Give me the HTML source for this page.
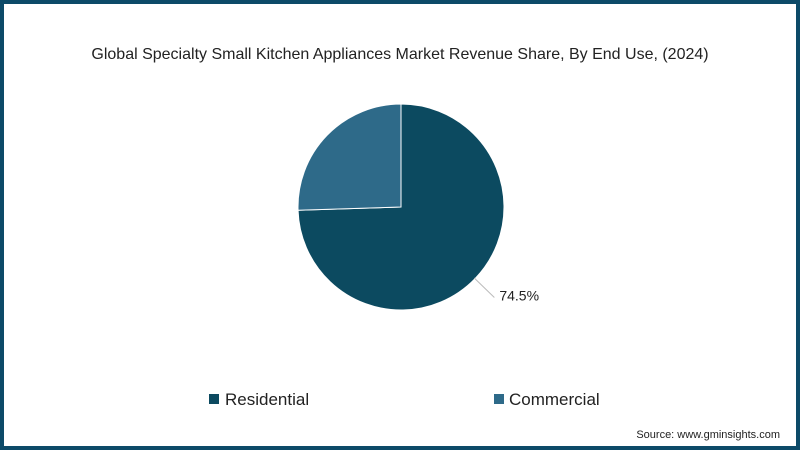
<!DOCTYPE html>
<html><head><meta charset="utf-8"><style>
html,body{margin:0;padding:0;background:#fff;}
#wrap{position:relative;width:800px;height:450px;box-sizing:border-box;border:4px solid #0d4a68;background:#fff;font-family:"Liberation Sans",sans-serif;}
</style></head><body>
<div id="wrap">
<svg id="svg" width="792" height="442" style="position:absolute;left:0;top:0">
<text x="396" y="55" text-anchor="middle" font-size="16" fill="#222" font-family="Liberation Sans, sans-serif">Global Specialty Small Kitchen Appliances Market Revenue Share, By End Use, (2024)</text>
<g id="pie"></g>
<g>
<rect x="205" y="390" width="10" height="10" fill="#0c4a60"/>
<text x="221" y="401" font-size="17" fill="#222">Residential</text>
<rect x="490" y="390" width="10" height="10" fill="#2e6a89"/>
<text x="505" y="401" font-size="17" fill="#222">Commercial</text>
</g>
<text x="776" y="434" text-anchor="end" font-size="11" fill="#222">Source: www.gminsights.com</text>
</svg>
</div>
<script>
const categories=["Residential","Commercial"];
const values=[74.5,25.5];
const labels=["74.5%",""];
const colors=["#0c4a60","#2e6a89"];
const cx=397,cy=203,r=103;
const g=document.getElementById('pie');
const ns='http://www.w3.org/2000/svg';
const total=values.reduce((a,b)=>a+b,0);
let a0=0;
function pt(a,rr){return [cx+rr*Math.sin(a),cy-rr*Math.cos(a)];}
values.forEach((v,i)=>{
 const a1=a0+v/total*2*Math.PI;
 const p0=pt(a0,r),p1=pt(a1,r);
 const large=(a1-a0)>Math.PI?1:0;
 const p=document.createElementNS(ns,'path');
 p.setAttribute('d',`M${cx},${cy}L${p0[0]},${p0[1]}A${r},${r} 0 ${large} 1 ${p1[0]},${p1[1]}Z`);
 p.setAttribute('fill',colors[i]);p.setAttribute('stroke','#fff');p.setAttribute('stroke-width','1');
 
 
 g.appendChild(p);
 if(labels[i]){
  const ang=(a0+a1)/2;
  const q0=pt(ang,r-1),q1=pt(ang,r+27);
  const l=document.createElementNS(ns,'polyline');
  l.setAttribute('points',`${q0[0]},${q0[1]} ${q1[0]},${q1[1]}`);
  l.setAttribute('stroke','#bbb');l.setAttribute('fill','none');
  
  
  g.appendChild(l);
  const t=document.createElementNS(ns,'text');
  t.setAttribute('x',q1[0]+5);t.setAttribute('y',q1[1]+3);
  t.setAttribute('font-size','14');t.setAttribute('fill','#222');
  t.textContent=labels[i];
  
  
  g.appendChild(t);
 }
 a0=a1;
});
</script>
</body></html>
